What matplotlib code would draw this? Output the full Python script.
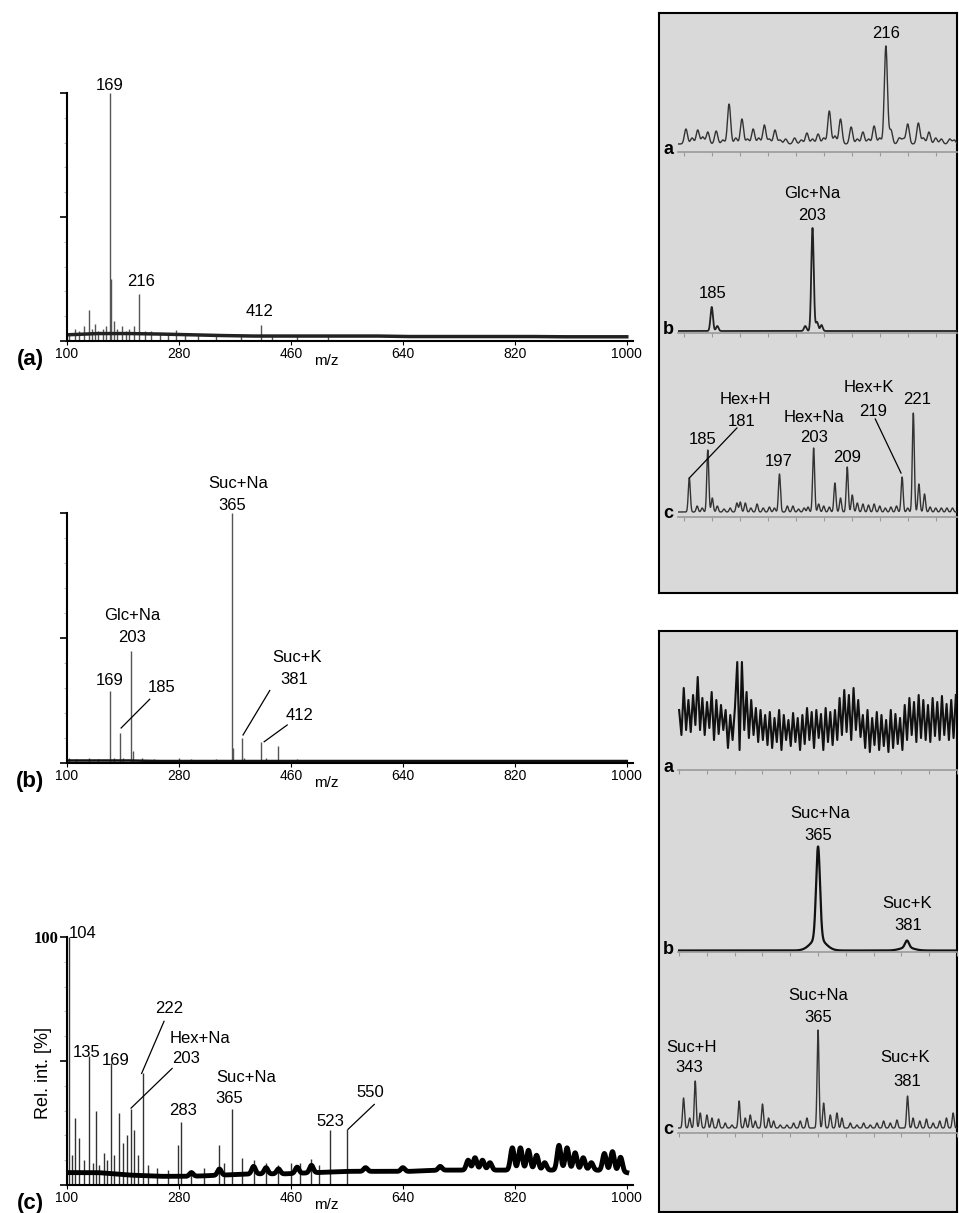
import numpy as np
import matplotlib
matplotlib.use("Agg")
import matplotlib.pyplot as plt

plt.rcParams['font.family'] = ['Liberation Sans', 'DejaVu Sans']

W, H = 959, 1213

# ---------------- main spectra: m/z and relative intensity ----------------
a_mz = [104, 113, 120, 127, 135, 140, 145, 150, 158, 163, 169, 171, 175, 180, 188,
        195, 200, 208, 216, 225, 235, 250, 262, 275, 290, 310, 340, 380, 412, 430, 470, 520]
a_int = [0.03, 0.05, 0.04, 0.06, 0.125, 0.05, 0.07, 0.04, 0.05, 0.06, 1.0, 0.25, 0.08, 0.05, 0.06,
         0.04, 0.05, 0.06, 0.19, 0.04, 0.04, 0.03, 0.03, 0.045, 0.03, 0.03, 0.025, 0.02, 0.065, 0.02, 0.02, 0.02]
a_base = [0.025, 0.03, 0.03, 0.028, 0.025, 0.022, 0.02, 0.02, 0.02, 0.02,
          0.02, 0.018, 0.018, 0.018, 0.018, 0.018, 0.017, 0.017, 0.017]

b_mz = [104, 115, 135, 150, 169, 175, 185, 190, 203, 206, 220, 240, 280, 300,
        340, 365, 367, 381, 385, 412, 420, 439, 470, 520]
b_int = [0.02, 0.015, 0.02, 0.015, 0.29, 0.02, 0.12, 0.02, 0.45, 0.05, 0.02, 0.015, 0.02, 0.015,
         0.015, 1.0, 0.06, 0.10, 0.02, 0.085, 0.02, 0.07, 0.015, 0.01]
b_base = [0.01, 0.01, 0.01, 0.008, 0.008, 0.008, 0.008, 0.008, 0.008, 0.008,
          0.008, 0.008, 0.008, 0.008, 0.008, 0.008, 0.008, 0.008, 0.008]

c_mz = [104, 108, 113, 120, 127, 135, 141, 147, 152, 159, 165, 170, 176, 183, 190, 196, 203,
        208, 214, 222, 230, 245, 262, 278, 283, 300, 320, 345, 352, 365, 381, 400, 420, 440,
        460, 475, 493, 505, 523, 550]
c_int = [100, 12, 27, 19, 10, 52, 9, 30, 8, 13, 10, 49, 12, 29, 17, 20, 30.5,
         22, 12, 45, 8, 7, 6, 16, 25.5, 6, 7, 16, 9, 30.5, 11, 10, 9, 8,
         9, 9, 10.6, 8, 22, 22.5]
# broad oscillations riding on the baseline (height above baseline)
c_hump_mz = [300, 345, 400, 420, 440, 470, 493, 580, 640, 700, 745, 756, 768, 780,
             816, 829, 842, 855, 868, 891, 904, 917, 930, 943, 964, 977, 990]
c_hump_h = [1.5, 2.5, 3, 2.5, 2, 2.5, 3, 1.5, 1.5, 1.5, 4, 5, 4, 3,
            9, 9, 8, 6, 3, 10, 9, 7, 5, 3, 7, 8, 6]
c_base = [5, 5, 4, 3.5, 3.5, 4, 4.5, 4.5, 5, 5.5, 5.5, 5.5, 6, 6, 6, 6, 6, 6, 5]

x_ticks = [100, 280, 460, 640, 820, 1000]

# labels (text, m/z, height) and leader lines (m/z0, y0, m/z1, y1)
a_labels = [("169", 169, 1.03), ("216", 219, 0.238), ("412", 409, 0.117)]
a_leaders = []
b_labels = [("Suc+Na", 376, 1.12), ("365", 365, 1.032), ("Glc+Na", 204.5, 0.592), ("203", 204.5, 0.504),
            ("169", 169, 0.33), ("185", 252, 0.30), ("Suc+K", 470, 0.42), ("381", 465, 0.332),
            ("412", 474, 0.188)]
b_leaders = [(233, 0.255, 187, 0.14), (426, 0.29, 383, 0.112), (454, 0.152, 417, 0.085)]
c_labels = [("135", 132, 53.3), ("169", 179, 50.4), ("222", 264, 71), ("Hex+Na", 314, 59),
            ("203", 292, 51), ("283", 286, 30), ("Suc+Na", 388, 43.5), ("365", 361, 34.7),
            ("523", 523, 25.5), ("550", 588, 37.4)]
c_leaders = [(256, 66, 220, 45), (269, 47, 203, 31), (594, 32.5, 552, 22.5)]

# ---------------- inset spectra (heights in relative units) ----------------
ta_mz = [180.4, 181.5, 182.5, 183.4, 184.3, 185.8, 187.0, 188.1, 189.3, 190.4, 191.4, 192.4, 193.4,
         194.4, 195.3, 196.3, 197.2, 198.2, 199.8, 201.0, 202.0, 203.0, 204.0, 205.0, 206.0,
         207.0, 208.0, 209.9, 211.0, 212.0, 213.0, 214.0, 215.0, 216.1, 217.0, 218.5, 219.2,
         220.0, 221.9, 222.8, 223.8, 225.0, 226.0, 227.5, 228.3]
ta_h = [15, 6, 14, 7, 12, 13, 4, 40, 6, 25, 5, 15, 6,
        19, 5, 14, 4, 5, 6, 4, 11, 5, 10, 6, 33,
        8, 25, 17, 5, 12, 5, 18, 6, 98, 14, 6, 5,
        20, 21, 6, 12, 6, 5, 5, 4]
tb_mz = [185.0, 186.0, 201.7, 203.0, 203.8, 204.6]
tb_h = [24, 5, 5, 103, 9, 6]
tc_mz = [181.0, 182.4, 183.3, 184.3, 185.1, 186.0, 187.2, 188.3, 189.5, 190.1, 191.0, 192.0,
         193.1, 194.2, 195.3, 196.2, 197.1, 198.5, 199.5, 200.5, 201.5, 202.2, 203.2, 204.1,
         205.0, 206.0, 207.0, 208.0, 209.2, 210.1, 211.0, 212.0, 213.0, 214.0, 215.0, 216.0,
         217.0, 218.0, 219.0, 220.0, 221.0, 222.0, 223.0, 224.0, 225.0, 226.0, 227.0, 228.0]
tc_h = [34, 6, 4, 62, 14, 6, 3, 4, 9, 10, 9, 4,
        8, 4, 5, 4, 38, 6, 6, 3, 4, 5, 64, 8,
        6, 5, 29, 14, 45, 17, 9, 8, 7, 8, 6, 4,
        5, 6, 35, 4, 99, 28, 18, 5, 4, 4, 4, 4]

ba_vals = [60, 35, 82, 40, 70, 38, 75, 45, 93, 40, 72, 35, 68, 42, 78, 30, 70, 36, 65,
           40, 60, 22, 55, 30, 62, 108, 20, 108, 40, 78, 32, 70, 35, 62, 28,
           60, 30, 55, 25, 58, 22, 52, 28, 60, 20, 55, 30, 50, 24, 57, 28, 52, 20,
           55, 26, 62, 30, 58, 22, 60, 32, 56, 20, 62, 28, 58, 25, 60, 30,
           72, 35, 80, 38, 75, 30, 82, 40, 70, 33,
           55, 22, 60, 18, 52, 25, 58, 20, 55, 24, 50, 18, 60, 22, 56, 26, 52, 20,
           65, 30, 72, 35, 68, 28, 75, 32, 70, 30, 65, 28, 72, 34, 68, 30, 74, 35, 66, 30, 70, 32, 75]
bb_mz = [365.0, 365.0, 381.0, 381.0]
bb_h = [92, 12, 7, 3]
bb_sig = [0.35, 1.3, 0.35, 1.2]
bc_mz = [340.8, 341.9, 342.9, 343.8, 345.0, 345.9, 347.1, 348.3, 349.5, 350.8, 351.9, 352.8,
         353.7, 355.0, 356.1, 357.0, 358.2, 359.4, 360.6, 361.8, 363.0, 365.0, 366.0, 367.2,
         368.4, 369.3, 370.8, 372.0, 373.2, 374.4, 375.6, 376.8, 378.0, 379.2, 381.1, 382.1,
         383.3, 384.5, 385.7, 386.9, 388.1, 389.3]
bc_h = [30, 10, 47, 15, 13, 10, 9, 5, 3, 27, 10, 13,
        7, 24, 10, 7, 3, 3, 5, 7, 10, 98, 25, 13,
        15, 10, 5, 3, 5, 3, 5, 7, 5, 8, 32, 10,
        7, 9, 5, 7, 10, 15]


def rect(x0, y0, x1, y1):
    return [x0 / W, 1 - y1 / H, (x1 - x0) / W, (y1 - y0) / H]


def trace(mz, h, lo, hi, sigma, floor, n=3000):
    x = np.linspace(lo, hi, n)
    y = np.zeros_like(x) + floor
    sig = sigma if np.iterable(sigma) else [sigma] * len(mz)
    for m, v, s in zip(mz, h, sig):
        y += v * np.exp(-0.5 * ((x - m) / s) ** 2)
    return x, y


fig = plt.figure(figsize=(W / 100, H / 100), dpi=100)

TXT = dict(fontsize=12, ha='center', va='center', color='black')


def main_panel(y_top, y_base, mz, inten, ymax, labels, leaders, tag, stick_col):
    ax = fig.add_axes(rect(67, y_top, 633, y_base))
    ax.vlines(mz, 0, inten, color=stick_col, lw=1.0)
    ax.set_xlim(100, 1010)
    ax.set_ylim(0, ymax)
    for s in ['top', 'right']:
        ax.spines[s].set_visible(False)
    ax.spines['left'].set_linewidth(1.5)
    ax.spines['bottom'].set_linewidth(1.5)
    ax.set_xticks(x_ticks)
    ax.set_xticklabels([str(t) for t in x_ticks], fontsize=10,
                       family=['Liberation Sans Narrow', 'Liberation Sans'])
    ax.tick_params(axis='x', length=3, pad=1)
    ax.set_yticks([0, ymax / 2, ymax])
    ax.set_yticks(np.linspace(0, ymax, 11), minor=True)
    ax.tick_params(axis='y', which='major', length=5, width=1.2)
    ax.tick_params(axis='y', which='minor', length=2, color='#aaaaaa')
    ax.set_yticklabels(['', '', ''])
    for t, x, y in labels:
        ax.text(x, y, t, clip_on=False, **TXT)
    for x0, y0, x1, y1 in leaders:
        ax.plot([x0, x1], [y0, y1], color='black', lw=0.9, clip_on=False)
    fig.text(326 / W, 1 - (y_base + 20) / H, "m/z", fontsize=11, ha='center', va='center')
    fig.text(30 / W, 1 - (y_base + 18) / H, tag, fontsize=16, fontweight='bold', ha='center', va='center')
    return ax


axa = main_panel(93, 341, a_mz, a_int, 1.0, a_labels, a_leaders, "(a)", '#555555')
axa.plot(np.linspace(100, 1000, len(a_base)), a_base, color='#222222', lw=2.5)

axb = main_panel(513, 763, b_mz, b_int, 1.0, b_labels, b_leaders, "(b)", '#555555')
axb.plot(np.linspace(100, 1000, len(b_base)), b_base, color='#111111', lw=1.8)

axc = main_panel(937, 1185, c_mz, c_int, 100, c_labels, c_leaders, "(c)", '#333333')
c_grid = np.linspace(100, 1000, 1800)
c_floor = np.interp(c_grid, np.linspace(100, 1000, len(c_base)), c_base)
_, c_humps = trace(c_hump_mz, c_hump_h, 100, 1000, 3.0, 0, n=len(c_grid))
axc.plot(c_grid, c_floor + c_humps, color='black', lw=3.5, solid_joinstyle='round')
axc.set_yticklabels(['', '', '100'], fontsize=12, fontweight='bold', family=['Liberation Serif'])
axc.tick_params(axis='y', which='major', pad=1)
axc.text(103, 101.5, "104", ha='left', va='center', fontsize=12, clip_on=False)
fig.text(44 / W, 1 - 1073 / H, "Rel. int. [%]", fontsize=13, rotation=90, ha='center', va='center')

# ---------------- inset boxes ----------------
for y0, y1 in [(13, 593), (631, 1212)]:
    bx = fig.add_axes(rect(659, y0, 957, y1))
    bx.set_facecolor('#d9d9d9')
    bx.set_xticks([])
    bx.set_yticks([])
    for s in bx.spines.values():
        s.set_linewidth(1.5)


def inset(base_y, lo, hi, x, y, labels, leaders, tag, col='#333333', lw=1.0, ticks=None):
    ax = fig.add_axes(rect(678, base_y - 150, 957, base_y))
    ax.set_facecolor('none')
    ax.plot(x, y, color=col, lw=lw)
    ax.set_xlim(lo, hi)
    ax.set_ylim(0, 150)
    for s in ['top', 'right', 'left']:
        ax.spines[s].set_visible(False)
    ax.spines['bottom'].set_color('#9a9a9a')
    ax.spines['bottom'].set_linewidth(1.2)
    ax.set_yticks([])
    ax.set_xticks(ticks)
    ax.set_xticklabels([])
    ax.tick_params(axis='x', length=3, color='#9a9a9a', direction='out')
    for t, tx, ty in labels:
        ax.text(tx, ty, t, clip_on=False, **TXT)
    for x0, y0, x1, y1 in leaders:
        ax.plot([x0, x1], [y0, y1], color='black', lw=0.9, clip_on=False)
    fig.text(668 / W, 1 - (base_y - 3) / H, tag, fontsize=13, fontweight='bold',
             ha='center', va='center')


tlo, thi = 178.98, 228.8
top_ticks = list(range(180, 230, 5))
x, y = trace(ta_mz, ta_h, tlo, thi, 0.28, 8)
inset(152, tlo, thi, x, y, [("216", 216.1, 119)], [], "a", ticks=top_ticks)
x, y = trace(tb_mz, tb_h, tlo, thi, 0.22, 2)
inset(333, tlo, thi, x, y, [("Glc+Na", 203, 140), ("203", 203, 118), ("185", 185.2, 39)], [], "b",
      col='#222222', lw=1.3, ticks=top_ticks)
x, y = trace(tc_mz, tc_h, tlo, thi, 0.18, 5)
inset(517, tlo, thi, x, y,
      [("Hex+H", 191, 117), ("181", 190.4, 95), ("185", 183.4, 78), ("Hex+Na", 203.2, 100),
       ("203", 203.2, 80), ("197", 197, 56), ("209", 209.2, 59), ("Hex+K", 213, 129),
       ("219", 213.8, 106), ("221", 221.7, 117)],
      [(189.5, 89, 181, 39), (214.2, 98, 218.8, 44)], "c", ticks=top_ticks)

blo, bhi = 339.8, 389.9
bot_ticks = list(range(340, 391, 5))
inset(770, blo, bhi, np.linspace(340, 389.8, len(ba_vals)), ba_vals, [], [], "a",
      col='#111111', lw=1.5, ticks=bot_ticks)
x, y = trace(bb_mz, bb_h, blo, bhi, bb_sig, 1.5)
inset(952, blo, bhi, x, y, [("Suc+Na", 365.3, 139), ("365", 365.1, 116), ("Suc+K", 381, 49), ("381", 381.2, 27)],
      [], "b", col='#111111', lw=1.6, ticks=bot_ticks)
x, y = trace(bc_mz, bc_h, blo, bhi, 0.17, 5)
inset(1133, blo, bhi, x, y,
      [("Suc+H", 342.2, 86), ("343", 341.9, 65), ("Suc+Na", 365, 138), ("365", 365, 116),
       ("Suc+K", 380.7, 75), ("381", 381, 51)], [], "c", ticks=bot_ticks)

fig.savefig("out.png", dpi=100)
